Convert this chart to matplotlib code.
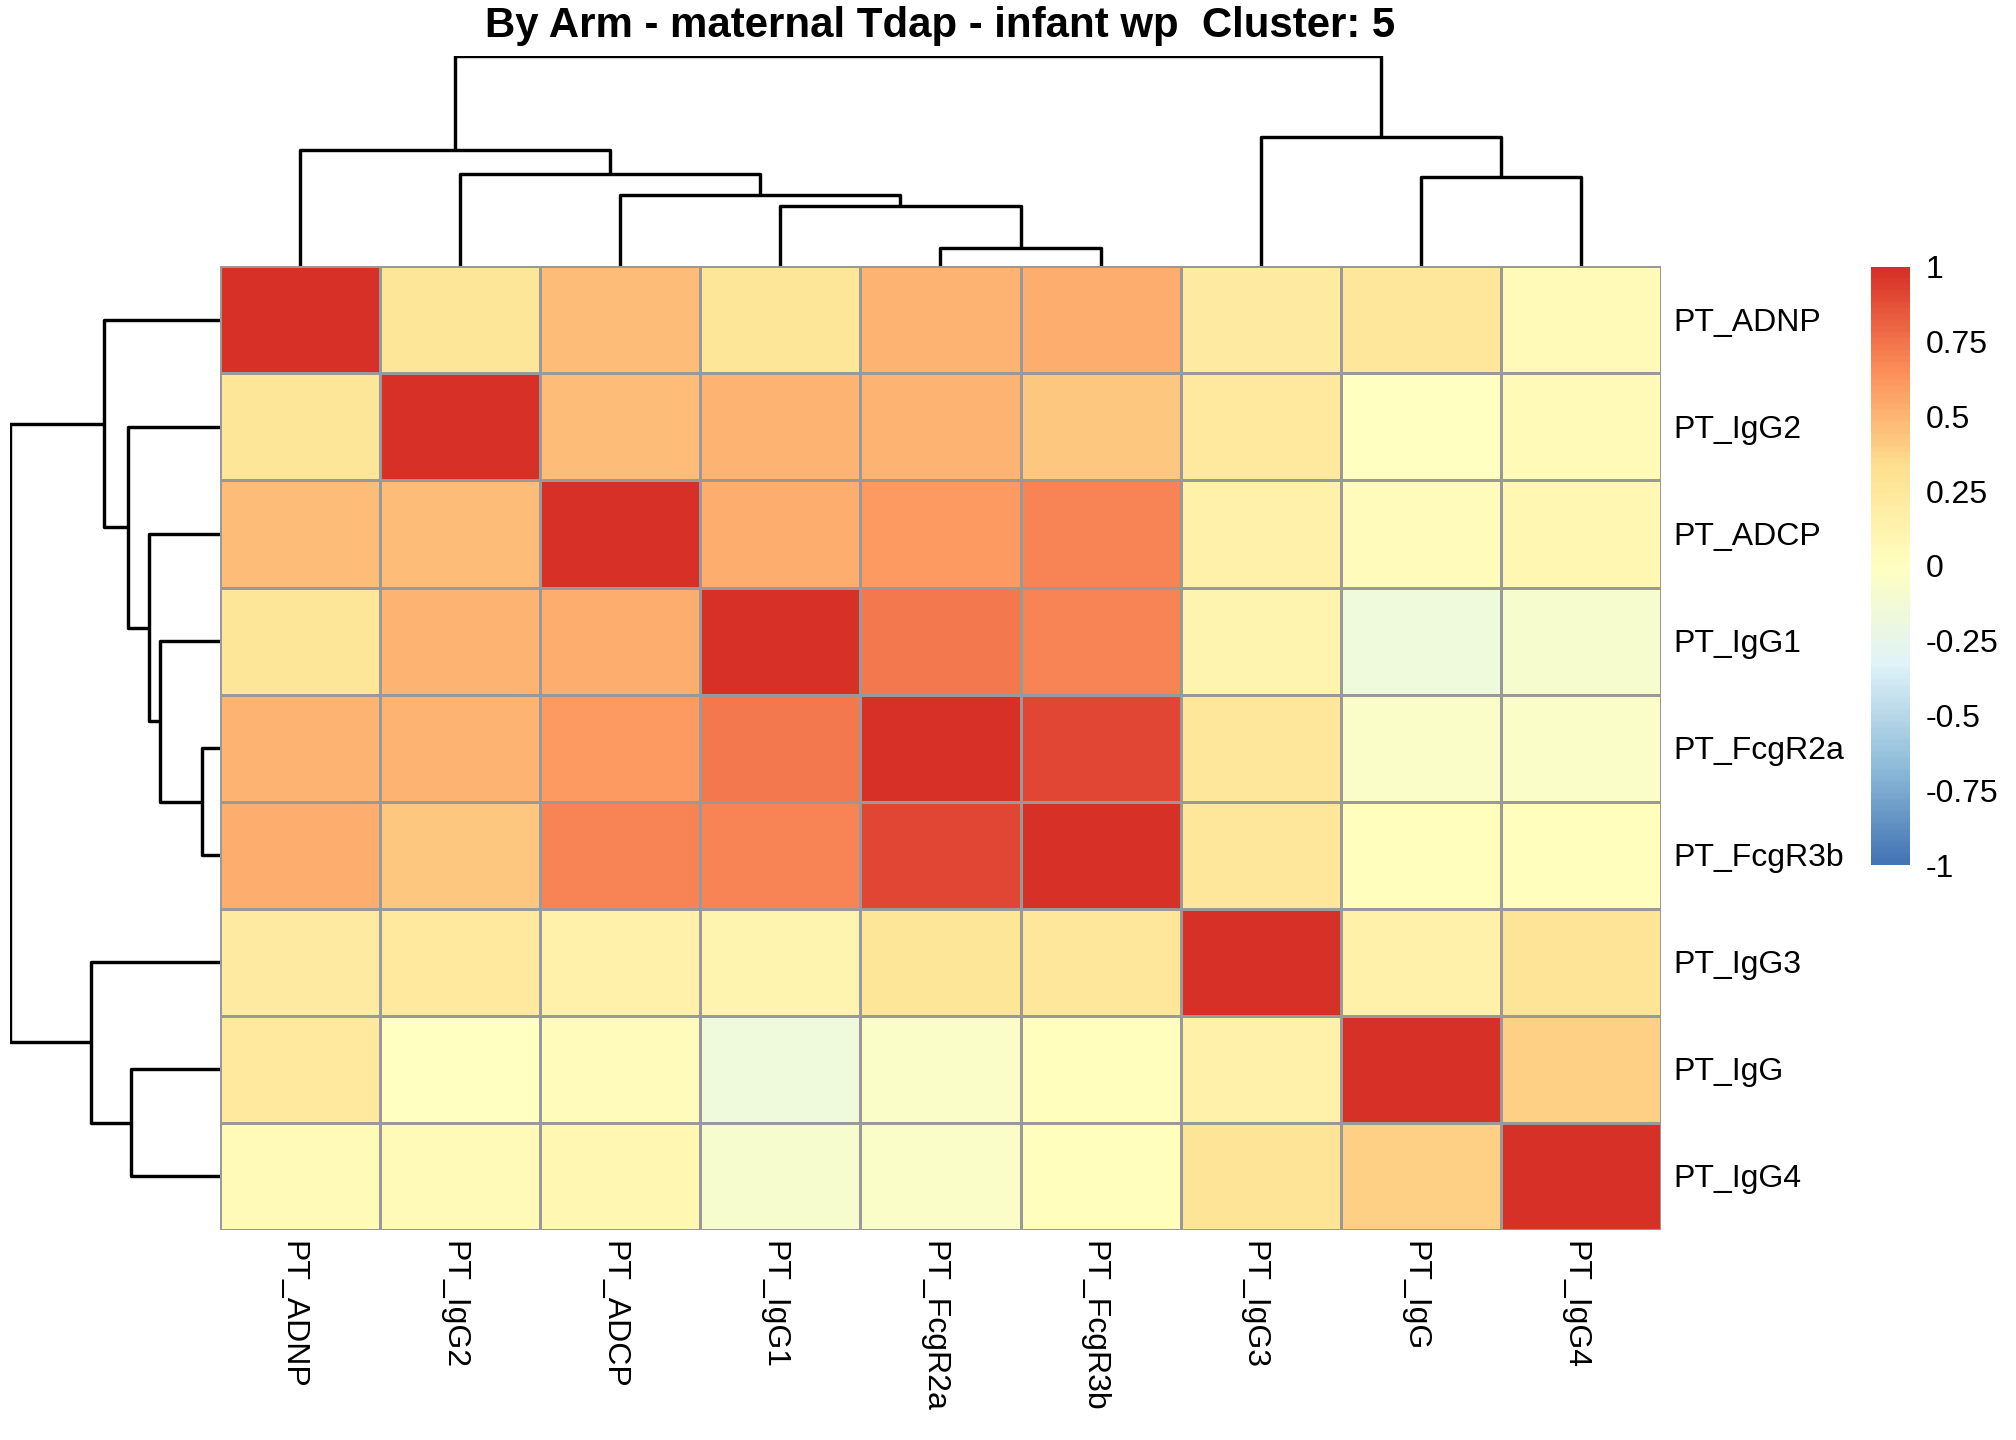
import numpy as np
import matplotlib.pyplot as plt
from matplotlib.colors import LinearSegmentedColormap, ListedColormap

plt.rcParams['font.family'] = ['Liberation Sans', 'DejaVu Sans']

labels = ['PT_ADNP', 'PT_IgG2', 'PT_ADCP', 'PT_IgG1', 'PT_FcgR2a',
          'PT_FcgR3b', 'PT_IgG3', 'PT_IgG', 'PT_IgG4']

# correlation values (rows/cols in plotted order)
corr = [
    [1.00, 0.27, 0.46, 0.27, 0.51, 0.52, 0.21, 0.25, 0.04],
    [0.27, 1.00, 0.46, 0.51, 0.51, 0.43, 0.22, -0.02, 0.04],
    [0.46, 0.46, 1.00, 0.53, 0.60, 0.69, 0.16, 0.02, 0.09],
    [0.27, 0.51, 0.53, 1.00, 0.72, 0.69, 0.11, -0.17, -0.10],
    [0.51, 0.51, 0.60, 0.72, 1.00, 0.91, 0.25, -0.06, -0.05],
    [0.52, 0.43, 0.69, 0.69, 0.91, 1.00, 0.25, 0.00, 0.01],
    [0.21, 0.22, 0.16, 0.11, 0.26, 0.25, 1.00, 0.16, 0.28],
    [0.22, -0.02, 0.02, -0.17, -0.06, 0.00, 0.16, 1.00, 0.38],
    [0.04, 0.05, 0.09, -0.10, -0.05, 0.01, 0.28, 0.38, 1.00],
]

# hierarchical clustering merges: leaves 0..8, merged nodes 9..
merge_left = [4, 3, 2, 1, 0, 7, 6, 13]
merge_right = [5, 9, 10, 11, 12, 8, 14, 15]
merge_height = [0.18, 0.60, 0.71, 0.92, 1.16, 0.89, 1.29, 2.10]

legend_ticks = [1, 0.75, 0.5, 0.25, 0, -0.25, -0.5, -0.75, -1]
legend_labels = ['1', '0.75', '0.5', '0.25', '0', '-0.25', '-0.5', '-0.75', '-1']

title = 'By Arm - maternal Tdap - infant wp  Cluster: 5'

# pheatmap default palette
rdylbu7 = ['#D73027', '#FC8D59', '#FEE090', '#FFFFBF', '#E0F3F8', '#91BFDB', '#4575B4'][::-1]
cmap = ListedColormap(LinearSegmentedColormap.from_list('p', rdylbu7)(np.linspace(0, 1, 100)))

n = len(labels)
mat = np.array(corr)

fig = plt.figure(figsize=(14, 10), dpi=144)

# half the cap height of 16pt text, in figure fraction
cap = 0.0078

hm_l, hm_r, hm_b, hm_t = 0.109, 0.824, 0.146, 0.815
ax = fig.add_axes([hm_l, hm_b, hm_r - hm_l, hm_t - hm_b])
ax.pcolormesh(np.arange(n + 1), np.arange(n + 1), mat, cmap=cmap, vmin=-1, vmax=1,
              edgecolors='#999999', linewidth=1.3)
ax.set_xlim(0, n)
ax.set_ylim(n, 0)
ax.axis('off')

for i, lab in enumerate(labels):
    fig.text(0.830, hm_t - (i + 0.5) / n * (hm_t - hm_b) - cap, lab, fontsize=16,
             ha='left', va='baseline')
    fig.text(hm_l + (i + 0.5) / n * (hm_r - hm_l) - 0.0035, 0.138, lab, fontsize=16,
             rotation=-90, ha='center', va='top')


def tree_segments():
    pos = {i: i + 0.5 for i in range(n)}
    hgt = {i: 0.0 for i in range(n)}
    segs = []
    for k, (a, b, h) in enumerate(zip(merge_left, merge_right, merge_height)):
        node = n + k
        xa, xb = pos[a], pos[b]
        segs.append(([xa, xa, xb, xb], [hgt[a], h, h, hgt[b]]))
        pos[node] = (xa + xb) / 2
        hgt[node] = h
    return segs


segs = tree_segments()
top_h = max(merge_height)

axc = fig.add_axes([hm_l, hm_t, hm_r - hm_l, 0.961 - hm_t])
for xs, ys in segs:
    axc.plot(xs, ys, color='black', lw=1.7, solid_capstyle='butt')
axc.set_xlim(0, n)
axc.set_ylim(0, top_h)
axc.axis('off')

axr = fig.add_axes([0.005, hm_b, hm_l - 0.005, hm_t - hm_b])
for xs, ys in segs:
    axr.plot(ys, xs, color='black', lw=1.7, solid_capstyle='butt')
axr.set_xlim(top_h, 0)
axr.set_ylim(n, 0)
axr.axis('off')

# legend
lg_b, lg_t = 0.399, 0.8146
axl = fig.add_axes([0.928, lg_b, 0.019, lg_t - lg_b])
axl.imshow(np.linspace(1, -1, 200).reshape(-1, 1), cmap=cmap, vmin=-1, vmax=1,
           aspect='auto', extent=[0, 1, -1, 1])
axl.set_xlim(0, 1)
axl.set_ylim(-1, 1)
axl.axis('off')
for v, t in zip(legend_ticks, legend_labels):
    fig.text(0.955, lg_b + (v + 1) / 2 * (lg_t - lg_b) - cap, t, fontsize=16,
             ha='left', va='baseline')

fig.text((hm_l + hm_r) / 2, 0.982, title, fontsize=21, fontweight='bold',
         ha='center', va='center')

fig.savefig('out.png', dpi=144)
